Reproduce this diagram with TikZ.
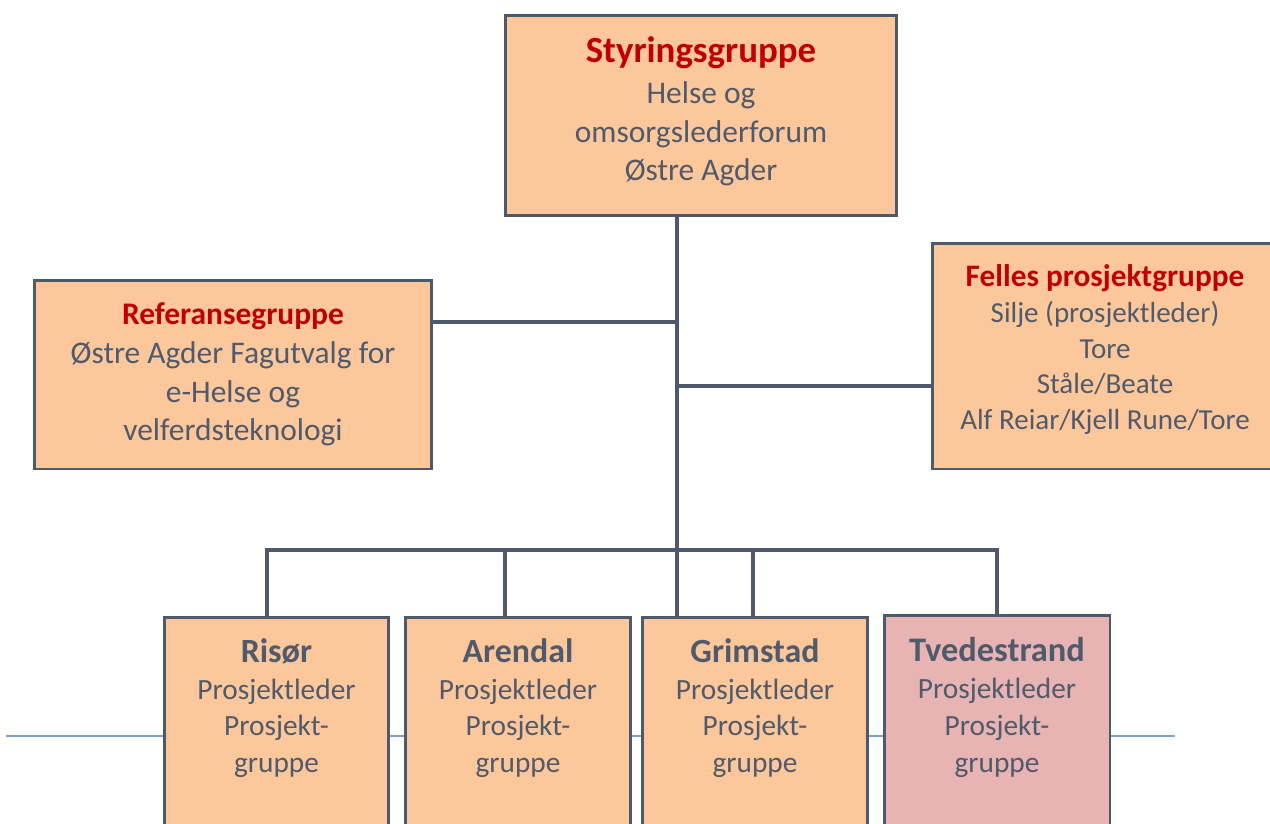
\documentclass[tikz,border=0pt]{standalone}
\usepackage{fontspec}
\setmainfont{Carlito}
\usetikzlibrary{positioning}

\definecolor{boxfill}{HTML}{FCC79A}
\definecolor{boxpink}{HTML}{E8B3B3}
\definecolor{linegray}{HTML}{4D5A6D}
\definecolor{textgray}{HTML}{4F5B6C}
\definecolor{titlered}{HTML}{C00000}
\definecolor{ruleblue}{HTML}{7EA0D0}

\begin{document}
\begin{tikzpicture}[x=0.02cm, y=-0.02cm,
  box/.style={draw=linegray, line width=1.7pt, fill=boxfill, inner sep=0pt},
  boxtext/.style={align=center, text=textgray, inner sep=0pt},
  link/.style={draw=linegray, line width=2.8pt},
  citytext/.style={boxtext, font=\fontsize{16.7}{21}\selectfont}]

% Page size
\useasboundingbox (0,0) rectangle (1270,823);
\clip (0,0) rectangle (1270,823);

% Thin blue rule behind the boxes
\draw[ruleblue, line width=0.9pt] (6,736) -- (1175,736);

% Steering group
\node[box, minimum width=7.84cm, minimum height=4.02cm] (styr) at (701,115.5) {};
\node[boxtext, font=\fontsize{17.9}{22.1}\selectfont] (styrtxt) at ([yshift=0.08cm]styr.center)
  {{\fontsize{21}{24}\selectfont\bfseries\color{titlered}Styringsgruppe}\\[1pt]Helse og\\omsorgslederforum\\Østre Agder};

% Reference group
\node[box, minimum width=7.96cm, minimum height=3.78cm] (ref) at (233,374.5) {};
\node[boxtext, font=\fontsize{17.9}{22.1}\selectfont] (reftxt) at (ref.center)
  {{\bfseries\color{titlered}Referansegruppe}\\Østre Agder Fagutvalg for\\e-Helse og\\velferdsteknologi};

% Joint project group
\node[box, minimum width=6.92cm, minimum height=4.52cm] (felles) at (1105,356) {};
\node[boxtext, font=\fontsize{16.5}{20.4}\selectfont] (fellestxt) at ([yshift=0.13cm]felles.center)
  {{\fontsize{17.8}{20.4}\selectfont\bfseries\color{titlered}Felles prosjektgruppe}\\Silje (prosjektleder)\\Tore\\Ståle/Beate\\Alf Reiar/Kjell Rune/Tore};

% Municipality boxes
\node[box, anchor=north, minimum width=4.5cm, minimum height=5cm] (risor) at (276.5,616) {};
\node[citytext, below=0.44cm of risor.north] (risortxt)
  {{\fontsize{19.3}{21}\selectfont\bfseries Risør}\\Prosjektleder\\Prosjekt-\\gruppe};

\node[box, anchor=north, minimum width=4.52cm, minimum height=5cm] (arendal) at (518,616) {};
\node[citytext, below=0.44cm of arendal.north] (arendaltxt)
  {{\fontsize{19.3}{21}\selectfont\bfseries Arendal}\\Prosjektleder\\Prosjekt-\\gruppe};

\node[box, anchor=north, minimum width=4.52cm, minimum height=5cm] (grimstad) at (755,616) {};
\node[citytext, below=0.44cm of grimstad.north] (grimstadtxt)
  {{\fontsize{19.3}{21}\selectfont\bfseries Grimstad}\\Prosjektleder\\Prosjekt-\\gruppe};

\node[box, fill=boxpink, anchor=north, minimum width=4.52cm, minimum height=5cm] (tvede) at (997,614) {};
\node[citytext, below=0.46cm of tvede.north] (tvedetxt)
  {{\fontsize{19.6}{21}\selectfont\bfseries Tvedestrand}\\Prosjektleder\\Prosjekt-\\gruppe};

% Trunk and side branches
\coordinate (bus) at (677,550);
\draw[link] (styr.south -| bus) -- (grimstad.north -| bus);
\coordinate (refjoin) at (677,322);
\draw[link] (refjoin) -- (refjoin -| ref.east);
\coordinate (fellesjoin) at (677,386);
\draw[link] (fellesjoin) -- (fellesjoin -| felles.west);

% Bus to the municipalities
\coordinate (drop1) at (267,550);
\coordinate (drop2) at (505,550);
\coordinate (drop3) at (753,550);
\coordinate (drop4) at (997,550);
\draw[link] (drop1 |- risor.north) -- (drop1) -- (drop4) -- (drop4 |- tvede.north);
\draw[link] (drop2) -- (drop2 |- arendal.north);
\draw[link] (drop3) -- (drop3 |- grimstad.north);

\end{tikzpicture}
\end{document}
